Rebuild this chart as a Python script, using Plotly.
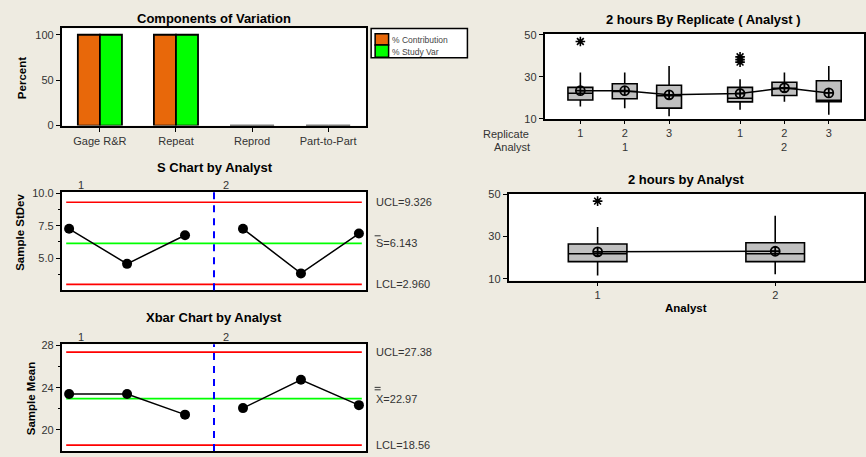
import plotly.graph_objects as go

# ---------------- data ----------------
components = ["Gage R&R", "Repeat", "Reprod", "Part-to-Part"]
pct_contribution = [100, 100, 0, 0]
pct_study_var = [100, 100, 0, 0]

replicates = [1, 2, 3, 1, 2, 3]
rep_analyst = [1, 1, 1, 2, 2, 2]
rep_q1 = [19.0, 19.6, 15.1, 18.1, 21.1, 18.2]
rep_median = [22.2, 23.0, 21.0, 19.8, 24.5, 18.8]
rep_q3 = [25.0, 26.7, 26.0, 25.0, 27.4, 28.1]
rep_lower = [15.9, 15.0, 11.3, 14.4, 18.1, 12.0]
rep_upper = [32.0, 32.0, 35.2, 28.9, 32.0, 35.2]
rep_mean = [23.4, 23.4, 21.45, 22.07, 24.76, 22.35]
rep_outlier_box = [1, 4, 4, 4]          # 1-based box index
rep_outlier_val = [46.8, 39.5, 38.2, 37.0]

analysts = [1, 2]
an_q1 = [18.2, 18.2]
an_median = [21.9, 21.9]
an_q3 = [26.5, 27.1]
an_lower = [11.6, 12.2]
an_upper = [34.6, 39.9]
an_mean = [22.8, 23.1]
an_outlier_analyst = [1]
an_outlier_val = [46.8]

sample_analyst = [1, 1, 1, 2, 2, 2]
s_values = [7.27, 4.55, 6.77, 7.27, 3.81, 6.90]
s_ucl, s_center, s_lcl = 9.326, 6.143, 2.960
xbar_values = [23.4, 23.4, 21.45, 22.07, 24.76, 22.35]
x_ucl, x_center, x_lcl = 27.38, 22.97, 18.56

# ---------------- helpers ----------------
W, H = 866, 457
BG = "#EEEBE1"
FONT = "Liberation Sans, Arial, sans-serif"
TXT = "#333333"


def px(x):
    return x / W


def py(y):
    return 1 - y / H


fig = go.Figure()

# ---- Components of variation ----
fig.add_trace(go.Bar(x=components, y=pct_contribution, name="% Contribution",
                     marker=dict(color="#E8680A", line=dict(color="black", width=1.8)),
                     xaxis="x", yaxis="y", showlegend=False))
fig.add_trace(go.Bar(x=components, y=pct_study_var, name="% Study Var",
                     marker=dict(color="#00FF00", line=dict(color="black", width=1.8)),
                     xaxis="x", yaxis="y", showlegend=False))

# ---- control charts ----
samples = list(range(1, len(s_values) + 1))
xs_gap, s_gap, xb_gap = [], [], []
for i, (smp, a) in enumerate(zip(samples, sample_analyst)):
    if i > 0 and a != sample_analyst[i - 1]:
        xs_gap.append(None); s_gap.append(None); xb_gap.append(None)
    xs_gap.append(smp); s_gap.append(s_values[i]); xb_gap.append(xbar_values[i])
lim_x = [samples[0] - 0.05, samples[-1] + 0.05]
sep_x = [(samples[i] + samples[i - 1]) / 2 for i in range(1, len(samples))
         if sample_analyst[i] != sample_analyst[i - 1]]

for ax, (u, c, l), vals in [("2", (s_ucl, s_center, s_lcl), s_gap),
                             ("3", (x_ucl, x_center, x_lcl), xb_gap)]:
    for v, col, w in [(u, "#FF0000", 1.6), (l, "#FF0000", 1.6), (c, "#00FF00", 1.8)]:
        fig.add_trace(go.Scatter(x=lim_x, y=[v, v], mode="lines",
                                 line=dict(color=col, width=w),
                                 xaxis="x" + ax, yaxis="y" + ax, showlegend=False))
    fig.add_trace(go.Scatter(x=xs_gap, y=vals, mode="lines+markers",
                             line=dict(color="black", width=1.5),
                             marker=dict(color="black", size=10),
                             xaxis="x" + ax, yaxis="y" + ax, showlegend=False,
                             connectgaps=False))

# ---- box plot by replicate (analyst) ----
rep_pos = [i + 1 + (a - 1) * 0.6 for i, a in enumerate(rep_analyst)]
fig.add_trace(go.Box(x=rep_pos, q1=rep_q1, median=rep_median, q3=rep_q3,
                     lowerfence=rep_lower, upperfence=rep_upper,
                     orientation="v", width=0.56, whiskerwidth=0,
                     fillcolor="#C0C0C0", line=dict(color="black", width=1.6),
                     boxpoints=False, xaxis="x4", yaxis="y4", showlegend=False))
fig.add_trace(go.Scatter(x=rep_pos, y=rep_mean, mode="lines+markers",
                         line=dict(color="black", width=1.5),
                         marker=dict(symbol="circle-cross-open", size=9, color="black",
                                     line=dict(width=1.8, color="black")),
                         xaxis="x4", yaxis="y4", showlegend=False))
fig.add_trace(go.Scatter(x=[rep_pos[b - 1] for b in rep_outlier_box], y=rep_outlier_val,
                         mode="markers",
                         marker=dict(symbol="asterisk-open", size=8, color="black",
                                     line=dict(width=1.6, color="black")),
                         xaxis="x4", yaxis="y4", showlegend=False))

# ---- box plot by analyst ----
fig.add_trace(go.Box(x=analysts, q1=an_q1, median=an_median, q3=an_q3,
                     lowerfence=an_lower, upperfence=an_upper,
                     orientation="v", width=0.33, whiskerwidth=0,
                     fillcolor="#C0C0C0", line=dict(color="black", width=1.6),
                     boxpoints=False, xaxis="x5", yaxis="y5", showlegend=False))
fig.add_trace(go.Scatter(x=analysts, y=an_mean, mode="lines+markers",
                         line=dict(color="black", width=1.5),
                         marker=dict(symbol="circle-cross-open", size=9, color="black",
                                     line=dict(width=1.8, color="black")),
                         xaxis="x5", yaxis="y5", showlegend=False))
fig.add_trace(go.Scatter(x=an_outlier_analyst, y=an_outlier_val, mode="markers",
                         marker=dict(symbol="asterisk-open", size=8, color="black",
                                     line=dict(width=1.6, color="black")),
                         xaxis="x5", yaxis="y5", showlegend=False))

# ---------------- layout ----------------
axis_common = dict(showline=True, mirror=True, linecolor="black", linewidth=2,
                   ticks="outside", ticklen=4, tickcolor="black", tickwidth=1,
                   showgrid=False, zeroline=False,
                   tickfont=dict(family=FONT, size=11, color=TXT))
noticks_x = dict(showline=True, mirror=True, linecolor="black", linewidth=2,
                 showticklabels=False, ticks="", showgrid=False, zeroline=False)

layout = dict(
    width=W, height=H, autosize=False,
    margin=dict(l=0, r=0, t=0, b=0),
    paper_bgcolor=BG, plot_bgcolor="white",
    font=dict(family=FONT, size=11, color=TXT),
    hovermode=False,
    barmode="group", bargap=0.42, bargroupgap=0,
    xaxis=dict(domain=[px(62), px(367)], anchor="y", type="category",
               range=[-0.5, 3.5], **axis_common),
    yaxis=dict(domain=[py(123.5), py(24)], anchor="x", range=[0, 107],
               tickvals=[0, 50, 100], **axis_common),
    xaxis2=dict(domain=[px(62), px(367)], anchor="y2", range=[0.875, 6.125], **noticks_x),
    yaxis2=dict(domain=[py(292.3), py(191.7)], anchor="x2", range=[2.5, 10.12],
                tickvals=[5.0, 7.5, 10.0], ticktext=["5.0", "7.5", "10.0"],
                minor=dict(tickvals=[3.75, 6.25, 8.75], ticks="outside", ticklen=2,
                           tickcolor="black"),
                **axis_common),
    xaxis3=dict(domain=[px(62), px(367)], anchor="y3", range=[0.875, 6.125], **noticks_x),
    yaxis3=dict(domain=[0, py(347.7)], anchor="x3", range=[18.0, 28.12],
                tickvals=[20, 24, 28],
                minor=dict(tickvals=[22, 26], ticks="outside", ticklen=2,
                           tickcolor="black"),
                **axis_common),
    xaxis4=dict(domain=[px(546), 1.0], anchor="y4", range=[0.197, 7.394],
                tickvals=rep_pos, ticktext=[str(r) for r in replicates],
                **{**axis_common, "ticklen": 3}),
    yaxis4=dict(domain=[py(117), py(29.5)], anchor="x4", range=[9.86, 50.46],
                tickvals=[10, 30, 50], **axis_common),
    xaxis5=dict(domain=[px(510), 1.0], anchor="y5", range=[0.5, 2.5],
                tickvals=analysts, ticktext=[str(a) for a in analysts],
                **{**axis_common, "ticklen": 3}),
    yaxis5=dict(domain=[py(282.3), py(193.3)], anchor="x5", range=[9.26, 50.32],
                tickvals=[10, 30, 50], **axis_common),
)
fig.update_layout(**layout)

ann = []
shapes = []


def text(x, y, s, size=11, bold=False, xanchor="center", color=TXT, angle=0, **kw):
    ann.append(dict(x=x, y=y, xref=kw.pop("xref", "paper"), yref=kw.pop("yref", "paper"),
                    text=f"<b>{s}</b>" if bold else s, showarrow=False,
                    xanchor=xanchor, yanchor="middle", textangle=angle,
                    font=dict(family=FONT, size=size, color=color), **kw))


# titles
text(px(214.7), py(14), "Components of Variation", 13, True, color="black")
text(px(215), py(166.7), "S Chart by Analyst", 13, True, color="black")
text(px(214), py(320.7), "Xbar Chart by Analyst", 13, True, color="black")
text(px(705), py(15), "2 hours By Replicate ( Analyst )", 13, True, color="black")
text(px(688), py(178.3), "2 hours by Analyst", 13, True, color="black")

# axis titles
text(px(22), py(75), "Percent", 11.5, True, color="black", angle=-90)
text(px(20), py(232.5), "Sample StDev", 11.5, True, color="black", angle=-90)
text(px(31), py(403), "Sample Mean", 11.5, True, color="black", angle=-90)
text(px(688), py(310), "Analyst", 11.5, True, color="black")

# replicate / analyst rows
text(px(532), py(131.7), "Replicate", 11, xanchor="right")
text(px(533), py(145.7), "Analyst", 11, xanchor="right")
for a in sorted(set(rep_analyst)):
    grp = [p for p, g in zip(rep_pos, rep_analyst) if g == a]
    text(sum(grp) / len(grp), py(145.7), str(a), 11, xref="x4")

# legend (manual)
shapes.append(dict(type="rect", xref="paper", yref="paper", x0=px(372), x1=px(468.5),
                   y0=py(54), y1=py(24), fillcolor="white",
                   line=dict(color="black", width=1.5)))
shapes.append(dict(type="rect", xref="paper", yref="paper", x0=px(376), x1=px(389.5),
                   y0=py(41), y1=py(29.5), fillcolor="#E8680A",
                   line=dict(color="black", width=1.5)))
shapes.append(dict(type="rect", xref="paper", yref="paper", x0=px(376), x1=px(389.5),
                   y0=py(53.5), y1=py(41), fillcolor="#00FF00",
                   line=dict(color="black", width=1.5)))
text(px(391), py(35.5), "% Contribution", 8.5, xanchor="left", color="#444444")
text(px(391), py(48), "% Study Var", 8.5, xanchor="left", color="#444444")

# control chart annotations
for ax, (u, c, l), labs in [("2", (s_ucl, s_center, s_lcl),
                             (f"UCL={s_ucl:.3f}", f"S={s_center:.3f}", f"LCL={s_lcl:.3f}")),
                            ("3", (x_ucl, x_center, x_lcl),
                             (f"UCL={x_ucl:.2f}", f"X={x_center:.2f}", f"LCL={x_lcl:.2f}"))]:
    for v, lab in zip((u, c, l), labs):
        text(px(375), v, lab, 11, xanchor="left", yref="y" + ax)
    # separator between analysts
    for sx in sep_x:
        shapes.append(dict(type="line", xref="x" + ax, yref="y" + ax + " domain",
                           x0=sx, x1=sx, y0=0, y1=1,
                           line=dict(color="#0000FF", width=2, dash="7px,6px")))

# bar over S, double bar over X
shapes.append(dict(type="line", xref="paper", yref="paper", x0=px(375.5), x1=px(381.5),
                   y0=py(236.5), y1=py(236.5), line=dict(color=TXT, width=1)))
for yy in (391.8, 394.3):
    shapes.append(dict(type="line", xref="paper", yref="paper", x0=px(375.5), x1=px(381.5),
                       y0=py(yy), y1=py(yy), line=dict(color=TXT, width=1)))

# group labels above control charts
for ax, yy in (("2", 184), ("3", 340)):
    for lx, lab in zip([1.2, 3.7], ["1", "2"]):
        text(lx, py(yy), lab, 11, xref="x" + ax)

fig.update_layout(annotations=ann, shapes=shapes)

post = (
    "document.documentElement.style.overflow='hidden';"
    "document.body.style.margin='0';"
    "document.body.style.overflow='hidden';"
)
fig.write_html("out.html", config={"displayModeBar": False, "staticPlot": True},
               post_script=post)
